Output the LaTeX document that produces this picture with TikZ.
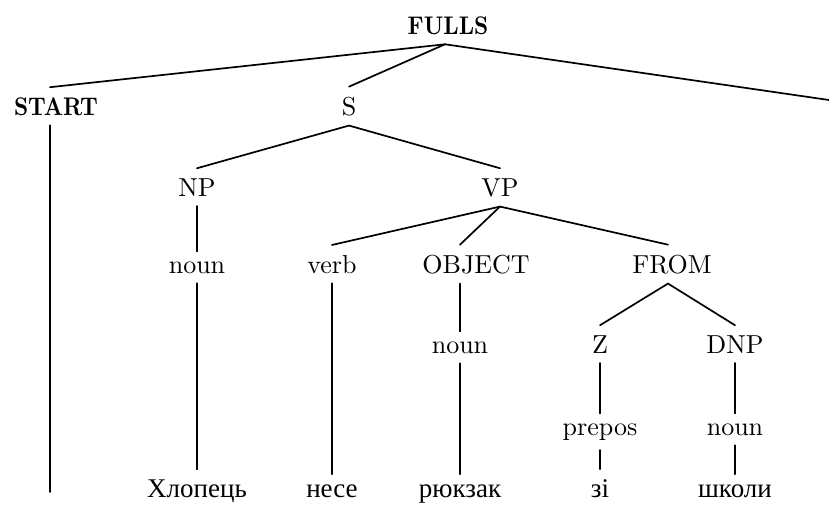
\documentclass[tikz,border=0pt]{standalone}
\usepackage{fontspec}
\newfontfamily\cyrfont{Liberation Serif}
\newcommand{\lbl}[1]{\scalebox{2.6}{#1}}
\newcommand{\hdl}[1]{\scalebox{2.22}[2.55]{\bfseries #1}}
\tikzset{
  lab/.style={anchor=base, inner sep=5pt, outer sep=5pt, font=\fontsize{10}{12}\selectfont},
  wd/.style={lab, font=\fontsize{27}{30}\selectfont\cyrfont},
  edge/.style={line width=1.7pt, line cap=round}
}
\begin{document}
\begin{tikzpicture}[x=1pt, y=-1pt]
\useasboundingbox (0,0) rectangle (829,504);
% nodes
\node[lab] (fulls) at (448,34) {\hdl{FULLS}};
\node[lab] (start) at (56,115) {\hdl{START}};
\node[lab] (s) at (349,115) {\lbl{S}};
\coordinate (offr) at (829,100);
\coordinate (startend) at (50,492);
\node[lab] (np) at (197,196) {\lbl{NP}};
\node[lab] (vp) at (500,196) {\lbl{VP}};
\node[lab] (noun1) at (197,273) {\lbl{noun}};
\node[lab] (verb) at (332,273) {\lbl{verb}};
\node[lab] (object) at (476,273) {\lbl{OBJECT}};
\node[lab] (from) at (672,273) {\lbl{FROM}};
\node[lab] (noun2) at (460,353) {\lbl{noun}};
\node[lab] (z) at (600,353) {\lbl{Z}};
\node[lab] (dnp) at (735,353) {\lbl{DNP}};
\node[lab] (prepos) at (600,435) {\lbl{prepos}};
\node[lab] (noun3) at (735,435) {\lbl{noun}};
\node[wd] (w1) at (197,497) {Хлопець};
\node[wd] (w2) at (332,497) {несе};
\node[wd] (w3) at (460,497) {рюкзак};
\node[wd] (w4) at (600,497) {зі};
\node[wd] (w5) at (735,497) {школи};
% edges
\draw[edge] ([xshift=-6pt]start.north) -- ([xshift=-3pt]fulls.south) -- (offr);
\draw[edge] ([xshift=-3pt]fulls.south) -- (s.north);
\draw[edge] ([xshift=-6pt]start.south) -- (startend);
\draw[edge] (np.north) -- (s.south) -- (vp.north);
\draw[edge] (np.south) -- (noun1.north);
\draw[edge] (noun1.south) -- (w1.north);
\draw[edge] (verb.north) -- (vp.south) -- ([xshift=-4pt]from.north);
\draw[edge] (vp.south) -- ([xshift=-16pt]object.north);
\draw[edge] (verb.south) -- (w2.north);
\draw[edge] ([xshift=-16pt]object.south) -- (noun2.north);
\draw[edge] (noun2.south) -- (w3.north);
\draw[edge] (z.north) -- ([xshift=-4pt]from.south) -- (dnp.north);
\draw[edge] (z.south) -- (prepos.north);
\draw[edge] (prepos.south) -- (w4.north);
\draw[edge] (dnp.south) -- (noun3.north);
\draw[edge] (noun3.south) -- (w5.north);
\end{tikzpicture}
\end{document}
